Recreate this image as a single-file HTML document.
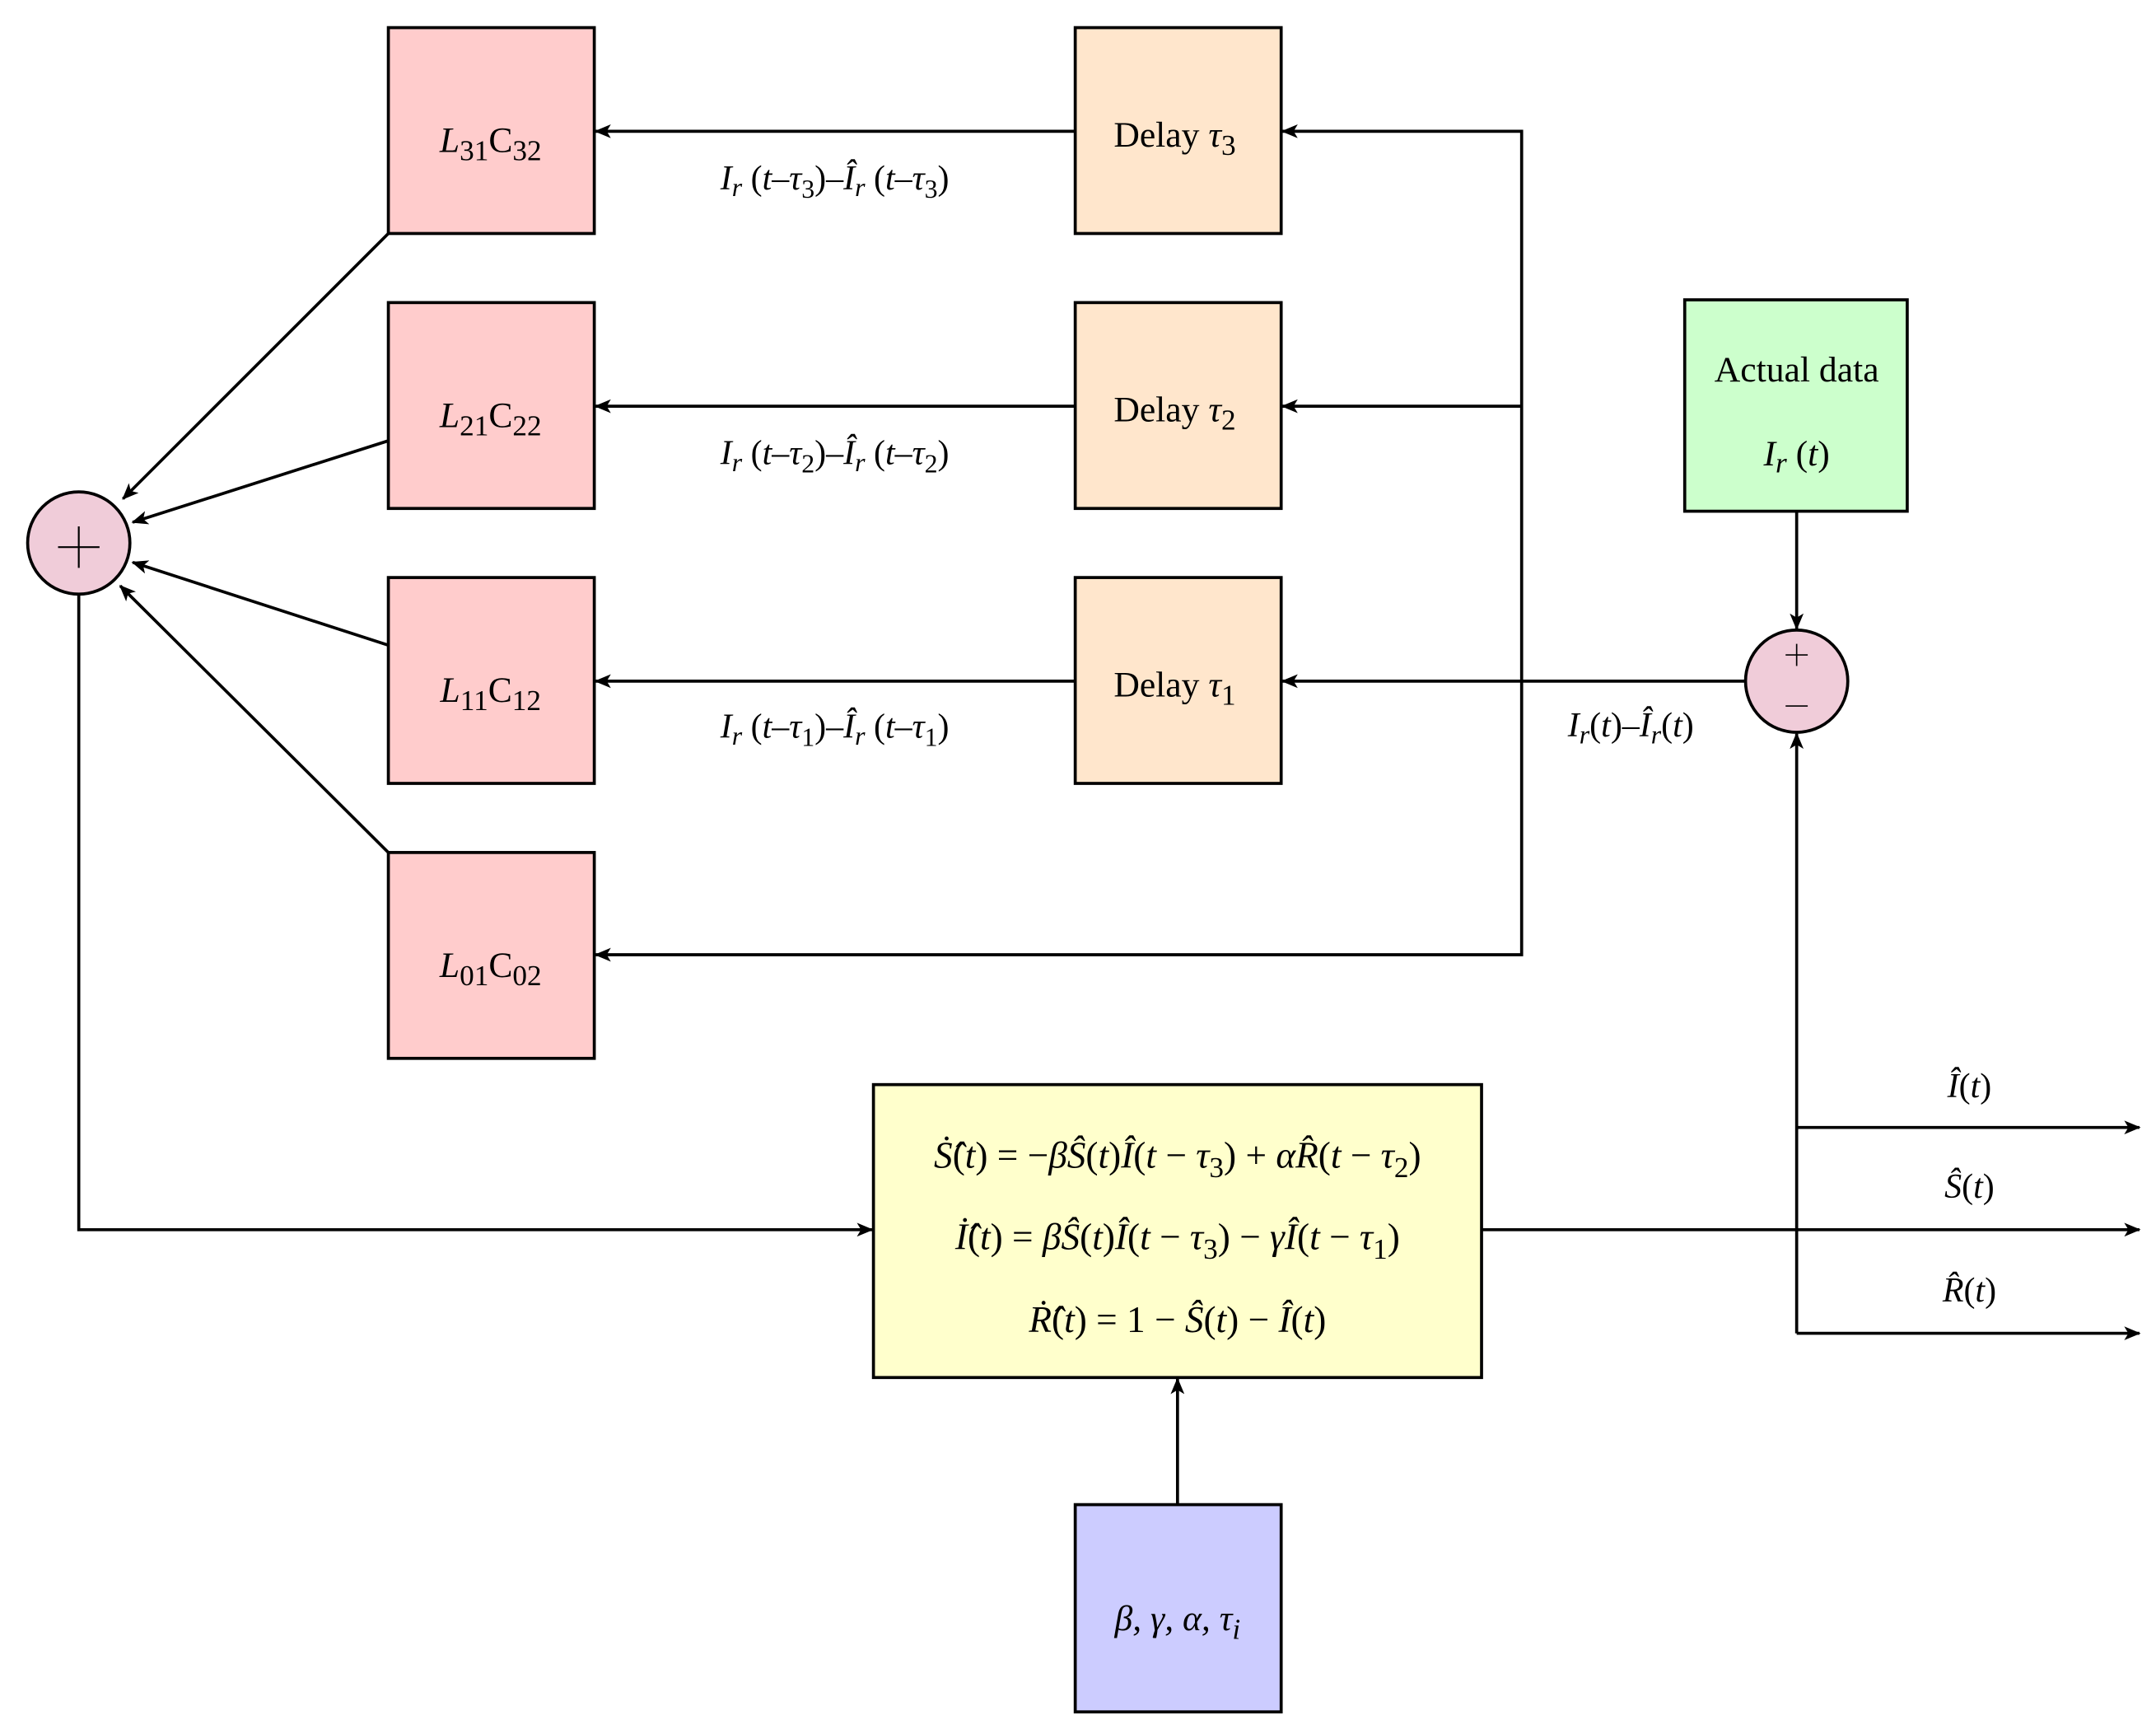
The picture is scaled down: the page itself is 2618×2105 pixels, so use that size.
<!DOCTYPE html>
<html><head><meta charset="utf-8"><style>
html,body{margin:0;padding:0;background:#fff;}
svg{display:block;}
text{font-family:"Liberation Serif",serif;fill:#000;}
.m{font-style:italic;}
</style></head><body>
<svg width="2618" height="2105" viewBox="0 0 1560 1255" preserveAspectRatio="none" xmlns="http://www.w3.org/2000/svg">
<defs>
<marker id="a" viewBox="0 0 12 10" refX="11" refY="5" markerWidth="12" markerHeight="10" markerUnits="userSpaceOnUse" orient="auto">
<path d="M0,0 L12,5 L0,10 L3,5 Z" fill="#000"/>
</marker>
</defs>
<g stroke="#000" stroke-width="2.2" fill="none">
<rect x="281" y="20" width="149" height="149" fill="#ffcccc"/>
<rect x="281" y="219" width="149" height="149" fill="#ffcccc"/>
<rect x="281" y="418" width="149" height="149" fill="#ffcccc"/>
<rect x="281" y="617" width="149" height="149" fill="#ffcccc"/>
<rect x="778" y="20" width="149" height="149" fill="#ffe6cc"/>
<rect x="778" y="219" width="149" height="149" fill="#ffe6cc"/>
<rect x="778" y="418" width="149" height="149" fill="#ffe6cc"/>
<rect x="1219" y="217" width="161" height="153" fill="#ccffcc"/>
<rect x="632" y="785" width="440" height="212" fill="#ffffcc"/>
<rect x="778" y="1089" width="149" height="150" fill="#ccccff"/>
<ellipse cx="57" cy="393" rx="37" ry="37" fill="#f0ccd9"/>
<ellipse cx="1300" cy="493" rx="37" ry="37" fill="#f0ccd9"/>
<line x1="778" y1="95" x2="431" y2="95" marker-end="url(#a)"/>
<line x1="778" y1="294" x2="431" y2="294" marker-end="url(#a)"/>
<line x1="778" y1="493" x2="431" y2="493" marker-end="url(#a)"/>
<polyline points="1101,493 1101,95 928,95" marker-end="url(#a)"/>
<line x1="1101" y1="294" x2="928" y2="294" marker-end="url(#a)"/>
<line x1="1263" y1="493" x2="928" y2="493" marker-end="url(#a)"/>
<polyline points="1101,493 1101,691 431,691" marker-end="url(#a)"/>
<line x1="1300" y1="370" x2="1300" y2="455" marker-end="url(#a)"/>
<line x1="1300" y1="965" x2="1300" y2="531" marker-end="url(#a)"/>
<line x1="281" y1="169" x2="89" y2="361" marker-end="url(#a)"/>
<line x1="281" y1="319" x2="96" y2="378" marker-end="url(#a)"/>
<line x1="281" y1="467" x2="96" y2="407" marker-end="url(#a)"/>
<line x1="281" y1="617" x2="87" y2="424" marker-end="url(#a)"/>
<polyline points="57,430 57,890 631,890" marker-end="url(#a)"/>
<line x1="1072" y1="890" x2="1548" y2="890" marker-end="url(#a)"/>
<line x1="1300" y1="816" x2="1548" y2="816" marker-end="url(#a)"/>
<line x1="1300" y1="965" x2="1548" y2="965" marker-end="url(#a)"/>
<line x1="852" y1="1089" x2="852" y2="998" marker-end="url(#a)"/>
<line x1="42" y1="396" x2="72" y2="396" stroke-width="1.3"/>
<line x1="57" y1="381" x2="57" y2="411" stroke-width="1.3"/>
<line x1="1292" y1="474" x2="1308" y2="474" stroke-width="1"/>
<line x1="1300" y1="466" x2="1300" y2="482" stroke-width="1"/>
<line x1="1292" y1="511" x2="1308" y2="511" stroke-width="1"/>
</g>
<g font-size="26" text-anchor="middle">
<text x="355" y="110"><tspan class="m">L</tspan><tspan font-size="21" dy="6">31</tspan><tspan dy="-6">C</tspan><tspan font-size="21" dy="6">32</tspan></text>
<text x="355" y="309"><tspan class="m">L</tspan><tspan font-size="21" dy="6">21</tspan><tspan dy="-6">C</tspan><tspan font-size="21" dy="6">22</tspan></text>
<text x="355" y="508"><tspan class="m">L</tspan><tspan font-size="21" dy="6">11</tspan><tspan dy="-6">C</tspan><tspan font-size="21" dy="6">12</tspan></text>
<text x="355" y="707"><tspan class="m">L</tspan><tspan font-size="21" dy="6">01</tspan><tspan dy="-6">C</tspan><tspan font-size="21" dy="6">02</tspan></text>
<text x="850" y="106">Delay <tspan class="m">τ</tspan><tspan font-size="21" dy="6">3</tspan></text>
<text x="850" y="305">Delay <tspan class="m">τ</tspan><tspan font-size="21" dy="6">2</tspan></text>
<text x="850" y="504">Delay <tspan class="m">τ</tspan><tspan font-size="21" dy="6">1</tspan></text>
<text x="1300" y="276">Actual data</text>
<text x="1300" y="337"><tspan class="m">I</tspan><tspan class="m" font-size="21" dy="5">r</tspan><tspan dy="-5"> (</tspan><tspan class="m">t</tspan>)</text>
<text x="852" y="1180" class="m">β, γ, α, τ<tspan font-size="21" dy="6">i</tspan></text>
</g>
<g font-size="25" text-anchor="middle">
<text x="604" y="137"><tspan class="m">I</tspan><tspan class="m" font-size="19" dy="5">r</tspan><tspan dy="-5"> (</tspan><tspan class="m">t</tspan>–<tspan class="m">τ</tspan><tspan font-size="19" dy="6">3</tspan><tspan dy="-6">)–</tspan><tspan class="m">Î</tspan><tspan class="m" font-size="19" dy="5">r</tspan><tspan dy="-5"> (</tspan><tspan class="m">t</tspan>–<tspan class="m">τ</tspan><tspan font-size="19" dy="6">3</tspan><tspan dy="-6">)</tspan></text>
<text x="604" y="336"><tspan class="m">I</tspan><tspan class="m" font-size="19" dy="5">r</tspan><tspan dy="-5"> (</tspan><tspan class="m">t</tspan>–<tspan class="m">τ</tspan><tspan font-size="19" dy="6">2</tspan><tspan dy="-6">)–</tspan><tspan class="m">Î</tspan><tspan class="m" font-size="19" dy="5">r</tspan><tspan dy="-5"> (</tspan><tspan class="m">t</tspan>–<tspan class="m">τ</tspan><tspan font-size="19" dy="6">2</tspan><tspan dy="-6">)</tspan></text>
<text x="604" y="534"><tspan class="m">I</tspan><tspan class="m" font-size="19" dy="5">r</tspan><tspan dy="-5"> (</tspan><tspan class="m">t</tspan>–<tspan class="m">τ</tspan><tspan font-size="19" dy="6">1</tspan><tspan dy="-6">)–</tspan><tspan class="m">Î</tspan><tspan class="m" font-size="19" dy="5">r</tspan><tspan dy="-5"> (</tspan><tspan class="m">t</tspan>–<tspan class="m">τ</tspan><tspan font-size="19" dy="6">1</tspan><tspan dy="-6">)</tspan></text>
<text x="1180" y="533"><tspan class="m">I</tspan><tspan class="m" font-size="19" dy="5">r</tspan><tspan dy="-5">(</tspan><tspan class="m">t</tspan>)–<tspan class="m">Î</tspan><tspan class="m" font-size="19" dy="5">r</tspan><tspan dy="-5">(</tspan><tspan class="m">t</tspan>)</text>
<text x="1425" y="794"><tspan class="m">Î</tspan>(<tspan class="m">t</tspan>)</text>
<text x="1425" y="867"><tspan class="m">Ŝ</tspan>(<tspan class="m">t</tspan>)</text>
<text x="1425" y="942"><tspan class="m">R̂</tspan>(<tspan class="m">t</tspan>)</text>
</g>
<g font-size="27" text-anchor="middle">
<text x="852" y="845"><tspan class="m">Ṡ̂</tspan>(<tspan class="m">t</tspan>) = −<tspan class="m">βŜ</tspan>(<tspan class="m">t</tspan>)<tspan class="m">Î</tspan>(<tspan class="m">t</tspan> − <tspan class="m">τ</tspan><tspan font-size="21" dy="7">3</tspan><tspan dy="-7">) + </tspan><tspan class="m">αR̂</tspan>(<tspan class="m">t</tspan> − <tspan class="m">τ</tspan><tspan font-size="21" dy="7">2</tspan><tspan dy="-7">)</tspan></text>
<text x="852" y="904"><tspan class="m">İ̂</tspan>(<tspan class="m">t</tspan>) = <tspan class="m">βŜ</tspan>(<tspan class="m">t</tspan>)<tspan class="m">Î</tspan>(<tspan class="m">t</tspan> − <tspan class="m">τ</tspan><tspan font-size="21" dy="7">3</tspan><tspan dy="-7">) − </tspan><tspan class="m">γÎ</tspan>(<tspan class="m">t</tspan> − <tspan class="m">τ</tspan><tspan font-size="21" dy="7">1</tspan><tspan dy="-7">)</tspan></text>
<text x="852" y="964"><tspan class="m">Ṙ̂</tspan>(<tspan class="m">t</tspan>) = 1 − <tspan class="m">Ŝ</tspan>(<tspan class="m">t</tspan>) − <tspan class="m">Î</tspan>(<tspan class="m">t</tspan>)</text>
</g>
</svg>
</body></html>
